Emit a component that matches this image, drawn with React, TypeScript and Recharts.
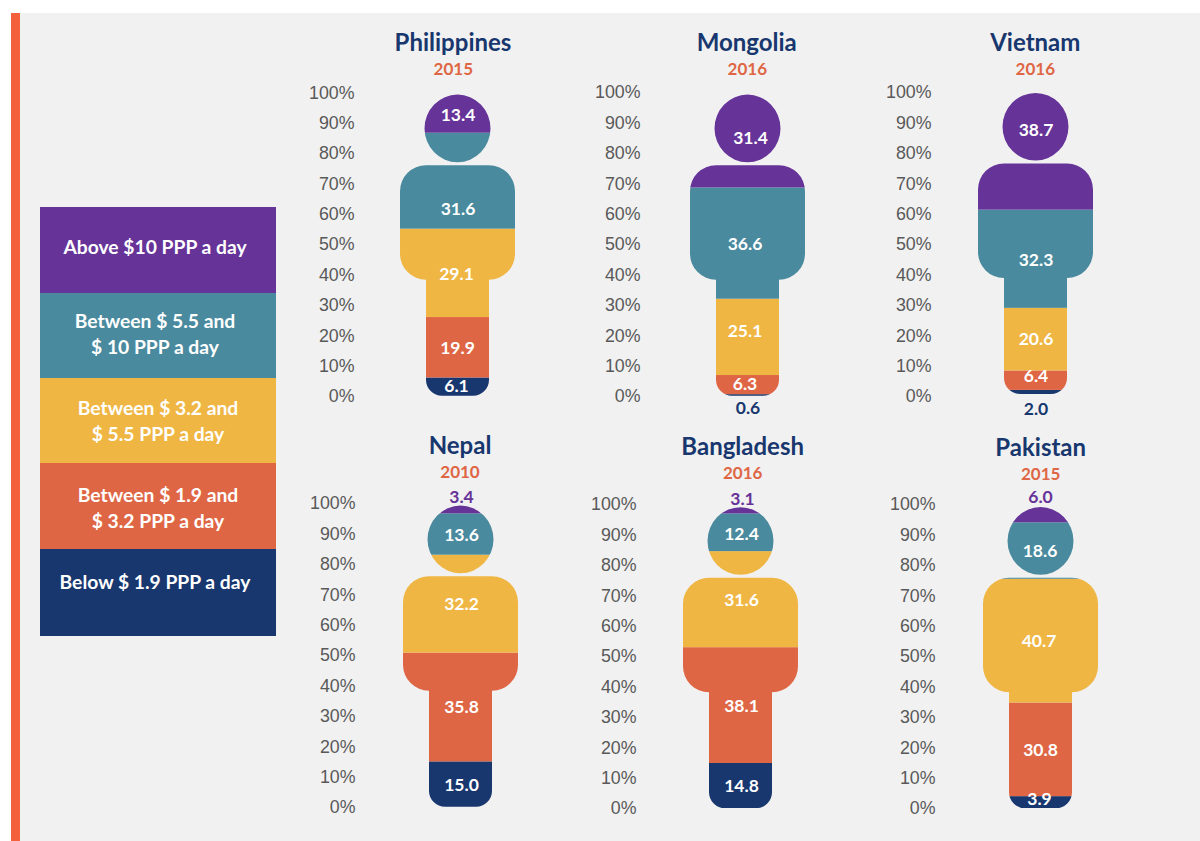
import { BarChart, Bar, XAxis, YAxis, LabelList } from 'recharts';

const countries = ['Philippines', 'Mongolia', 'Vietnam', 'Nepal', 'Bangladesh', 'Pakistan'];
const years = ['2015', '2016', '2016', '2010', '2016', '2015'];

// stacked from the feet up
const below19 = [6.1, 0.6, 2.0, 15.0, 14.8, 3.9];
const from19to32 = [19.9, 6.3, 6.4, 35.8, 38.1, 30.8];
const from32to55 = [29.1, 25.1, 20.6, 32.2, 31.6, 40.7];
const from55to10 = [31.6, 36.6, 32.3, 13.6, 12.4, 18.6];
const above10 = [13.4, 31.4, 38.7, 3.4, 3.1, 6.0];

const yTicks = [0, 10, 20, 30, 40, 50, 60, 70, 80, 90, 100];

const seriesKeys = ['below19', 'from19to32', 'from32to55', 'from55to10', 'above10'];
const seriesValues = [below19, from19to32, from32to55, from55to10, above10];
const seriesColors = ['#17376e', '#df6644', '#efb643', '#4a8a9e', '#663399'];

const legendLabels = [
  ['Above $10 PPP a day'],
  ['Between $ 5.5 and', '$ 10 PPP a day'],
  ['Between $ 3.2 and', '$ 5.5 PPP a day'],
  ['Between $ 1.9 and', '$ 3.2 PPP a day'],
  ['Below $ 1.9 PPP a day'],
];
const legendColors = ['#663399', '#4a8a9e', '#efb643', '#df6644', '#17376e'];
const legendEdges = [207, 293, 378, 463, 549, 636];
const legendTextY = [[247], [321, 347], [408, 434], [495, 521], [582]];
const legendTextX = [155, 155, 158, 158, 155];

const Y_AXIS_W = 100;
const BODY_W = 115;
const PLOT_H = 304;
const MARGIN = 30;
const LABEL_FONT = 'Lato, sans-serif';

// where each little chart sits on the page
const layouts = [
  { left: 400, top: 92, drop: -0.3, gap: 45.5, titleX: 453, titleY: 41.7, yearX: 453.3, yearY: 68 },
  { left: 690, top: 92, drop: -0.3, gap: 49.5, titleX: 746.7, titleY: 41.7, yearX: 747.3, yearY: 68 },
  { left: 978, top: 92, drop: -2, gap: 46.5, titleX: 1035.3, titleY: 41.5, yearX: 1035.3, yearY: 68 },
  { left: 402.5, top: 503, drop: -0.3, gap: 47.5, titleX: 460, titleY: 445, yearX: 460, yearY: 471 },
  { left: 682.5, top: 503.7, drop: 0.3, gap: 46.5, titleX: 742.7, titleY: 445.7, yearX: 742.7, yearY: 472.3 },
  { left: 983.3, top: 503.5, drop: 0.2, gap: 47.5, titleX: 1040.7, titleY: 446.7, yearX: 1040.7, yearY: 473.3 },
];

// hand nudges for the value labels [dx, dy], same order as seriesKeys
const labelNudges = [
  [[-1, -0.7], [0, 0], [-1, 1], [0.5, 28], [0.5, 2]],
  [[0.5, 13], [-2.5, -1], [-2.5, -6], [-2.5, 1], [3, -2]],
  [[0.5, 16], [0.5, -4], [0.5, 0], [0.5, 1], [0.5, -21]],
  [[1, 0], [1, 0], [1, 0], [1, 0.5], [1, -11]],
  [[1, 0.5], [1, 1], [1, 1], [1, 1], [2, -10]],
  [[-1, -3], [0, 0], [-1.5, 0], [-0.5, 0], [0, -16]],
];

// labels that sit outside the figure take the series colour
const isOutside = (chart: number, s: number) =>
  Math.abs(labelNudges[chart][s][1]) > 8 && seriesValues[s][chart] < 8;

function personPath(left: number, bottom: number) {
  const cx = left + BODY_W / 2;
  const right = left + BODY_W;
  const top = bottom - 230.5;
  const shoulder = bottom - 116;
  const legL = cx - 31.5;
  const legR = cx + 31.5;
  const r = 26;
  const f = 16;
  const headY = bottom - 267.3;
  return [
    `M ${cx - 33} ${headY} a 33 33.8 0 1 1 66 0 a 33 33.8 0 1 1 -66 0 Z`,
    `M ${left + r} ${top} H ${right - r} A ${r} ${r} 0 0 1 ${right} ${top + r} V ${shoulder - r}`,
    `A ${r} ${r} 0 0 1 ${right - r} ${shoulder} H ${legR} V ${bottom - f}`,
    `A ${f} ${f} 0 0 1 ${legR - f} ${bottom} H ${legL + f} A ${f} ${f} 0 0 1 ${legL} ${bottom - f}`,
    `V ${shoulder} H ${left + r} A ${r} ${r} 0 0 1 ${left} ${shoulder - r} V ${top + r}`,
    `A ${r} ${r} 0 0 1 ${left + r} ${top} Z`,
  ].join(' ');
}

const PersonSegment = (props: any) => {
  const { x, y, width, height, fill, clipId, drop } = props;
  return (
    <g>
      <clipPath id={clipId}>
        <path d={personPath(Y_AXIS_W, MARGIN + PLOT_H + drop)} />
      </clipPath>
      <rect x={x} y={y} width={width} height={height} fill={fill} clipPath={`url(#${clipId})`} />
    </g>
  );
};

const ValueLabel = (props: any) => {
  const { x, y, width, height, value, chart, s } = props;
  const [dx, dy] = labelNudges[chart][s];
  return (
    <text
      x={x + width / 2 + dx}
      y={y + height / 2 + dy}
      dy="0.36em"
      textAnchor="middle"
      fontFamily={LABEL_FONT}
      fontWeight={700}
      fontSize={17.5}
      fill={isOutside(chart, s) ? seriesColors[s] : '#ffffff'}
    >
      {Number(value).toFixed(1)}
    </text>
  );
};

const PersonChart = ({ chart }: { chart: number }) => {
  const layout = layouts[chart];
  const row: Record<string, any> = { name: countries[chart] };
  seriesKeys.forEach((k, s) => {
    row[k] = seriesValues[s][chart];
  });
  return (
    <div style={{ position: 'absolute', left: layout.left - Y_AXIS_W, top: layout.top - MARGIN }}>
      <BarChart
        width={Y_AXIS_W + BODY_W}
        height={PLOT_H + MARGIN * 2}
        data={[row]}
        margin={{ top: MARGIN, right: 0, bottom: MARGIN, left: 0 }}
        barCategoryGap={0}
      >
        <XAxis dataKey="name" hide />
        <YAxis
          width={Y_AXIS_W}
          domain={[0, 100]}
          ticks={yTicks}
          interval={0}
          axisLine={false}
          tickLine={false}
          tickSize={0}
          tickMargin={layout.gap}
          tickFormatter={(v: number) => `${v}%`}
          tick={{ fill: '#595959', fontSize: 17.8, fontFamily: '"Liberation Sans", Arial, sans-serif' }}
        />
        {seriesKeys.map((k, s) => (
          <Bar
            key={k}
            dataKey={k}
            stackId="people"
            fill={seriesColors[s]}
            isAnimationActive={false}
            shape={(p: any) => <PersonSegment {...p} clipId={`person-${chart}-${k}`} drop={layout.drop} />}
          >
            <LabelList dataKey={k} content={(p: any) => <ValueLabel {...p} chart={chart} s={s} />} />
          </Bar>
        ))}
      </BarChart>
    </div>
  );
};

const centered = (x: number, y: number): React.CSSProperties => ({
  position: 'absolute',
  left: x,
  top: y,
  transform: 'translate(-50%, -50%)',
  whiteSpace: 'nowrap',
  lineHeight: 1,
  fontFamily: LABEL_FONT,
  fontWeight: 700,
});

export default function App() {
  return (
    <div style={{ position: 'absolute', left: 0, top: 0, width: 1200, height: 841, overflow: 'hidden', background: '#ffffff' }}>
      <div style={{ position: 'absolute', left: 11, top: 13, width: 1189, height: 828, background: '#f1f1f1' }} />
      <div style={{ position: 'absolute', left: 11, top: 13, width: 9, height: 828, background: '#f5603c' }} />

      {legendLabels.map((lines, i) => (
        <div key={i}>
          <div
            style={{
              position: 'absolute',
              left: 40,
              top: legendEdges[i],
              width: 236,
              height: legendEdges[i + 1] - legendEdges[i],
              background: legendColors[i],
            }}
          />
          {lines.map((line, j) => (
            <div key={j} style={{ ...centered(legendTextX[i], legendTextY[i][j]), color: '#ffffff', fontSize: 19.3 }}>
              {line}
            </div>
          ))}
        </div>
      ))}

      {countries.map((c, i) => (
        <div key={c}>
          <div style={{ ...centered(layouts[i].titleX, layouts[i].titleY), color: '#17376e', fontSize: 24 }}>{c}</div>
          <div style={{ ...centered(layouts[i].yearX, layouts[i].yearY), color: '#df6644', fontSize: 17 }}>{years[i]}</div>
          <PersonChart chart={i} />
        </div>
      ))}
    </div>
  );
}
